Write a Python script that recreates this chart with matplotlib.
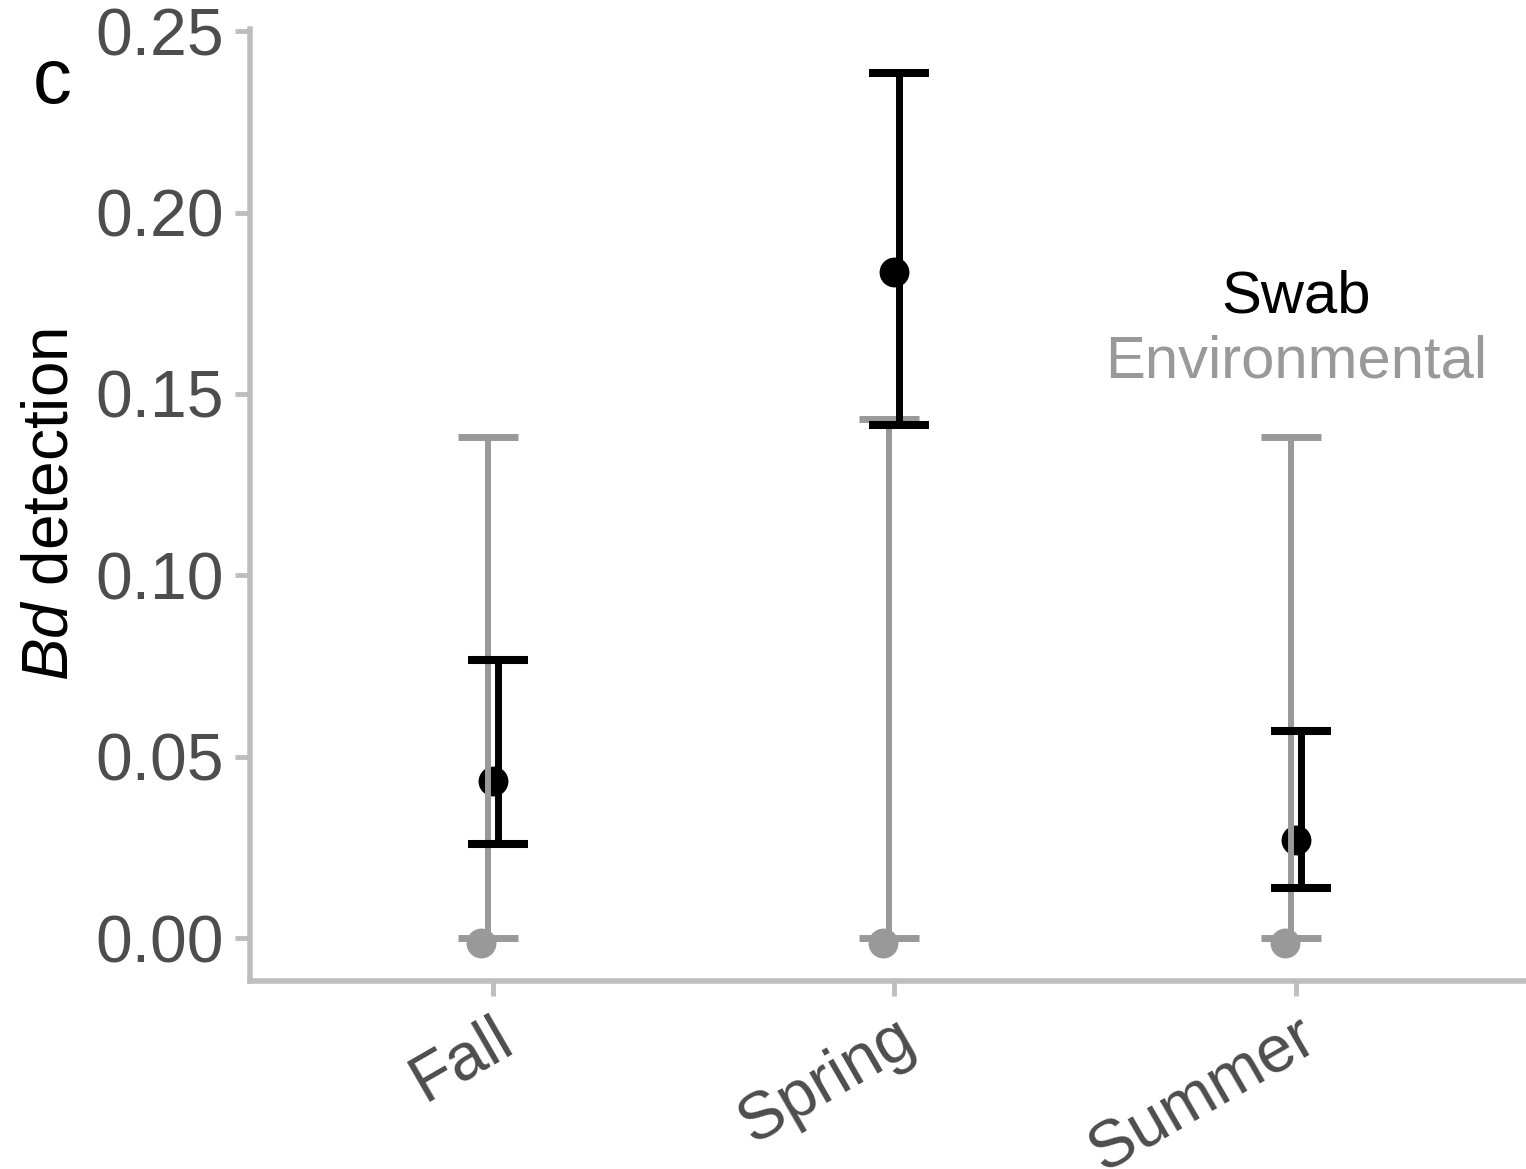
import matplotlib.pyplot as plt
import numpy as np

plt.rcParams['font.family'] = ['Liberation Sans', 'DejaVu Sans']
plt.rcParams['mathtext.fontset'] = 'custom'
plt.rcParams['mathtext.it'] = 'Liberation Sans:italic'
plt.rcParams['mathtext.rm'] = 'Liberation Sans'

seasons = ['Fall', 'Spring', 'Summer']
swab_est = [0.0433, 0.1837, 0.0269]
swab_lo = [0.0259, 0.1413, 0.0138]
swab_hi = [0.0766, 0.2385, 0.0571]
env_est = [-0.0013, -0.0013, -0.0013]
env_lo = [0.0, 0.0, 0.0]
env_hi = [0.1380, 0.1431, 0.1380]
y_ticks = [0.00, 0.05, 0.10, 0.15, 0.20, 0.25]

SWAB_COL = 'black'
ENV_COL = '#999999'
AXIS_COL = '#BEBEBE'
TICK_TXT = '#4D4D4D'

fig = plt.figure(figsize=(15.26, 11.69), dpi=100)
ax = fig.add_axes([250/1526, 188/1169, 1 - 250/1526, (981 - 29)/1169])

x = np.arange(1, len(seasons) + 1)

# points first, error bars drawn over them
ax.plot(x - 0.028, env_est, 'o', color=ENV_COL, ms=21.5, mew=0, zorder=2)
ax.plot(x, swab_est, 'o', color=SWAB_COL, ms=21.5, mew=0, zorder=2)

env_lo = np.array(env_lo)
swab_lo = np.array(swab_lo)
ax.errorbar(x - 0.0125, env_lo, yerr=[np.zeros(3), np.array(env_hi) - env_lo],
            fmt='none', ecolor=ENV_COL, elinewidth=4.3, capsize=21.6, capthick=5, zorder=3)
ax.errorbar(x + 0.0125, swab_lo, yerr=[np.zeros(3), np.array(swab_hi) - swab_lo],
            fmt='none', ecolor=SWAB_COL, elinewidth=5, capsize=21.6, capthick=5.8, zorder=4)

ax.text(3, 0.1725, 'Swab', ha='center', va='baseline', fontsize=43, color=SWAB_COL)
ax.text(3, 0.1544, 'Environmental', ha='center', va='baseline', fontsize=43, color=ENV_COL)

ax.set_xlim(0.396, 3.5726)
ax.set_ylim(-0.01185, 0.2506)
ax.set_xticks(x, seasons)
ax.set_yticks(y_ticks, ['%.2f' % v for v in y_ticks])
ax.tick_params(axis='both', length=10.5, width=3.5, color=AXIS_COL,
               labelsize=47.5, labelcolor=TICK_TXT, pad=8)
plt.setp(ax.get_xticklabels(), rotation=30, ha='right', rotation_mode='anchor')

for s in ['top', 'right']:
    ax.spines[s].set_visible(False)
for s in ['left', 'bottom']:
    ax.spines[s].set_color(AXIS_COL)
    ax.spines[s].set_linewidth(4)

ax.set_ylabel(r'$Bd$ detection', fontsize=46, color='black')
ax.yaxis.set_label_coords(-0.133, 0.5)

fig.text(33/1526, 1 - 103/1169, 'c', fontsize=56, va='baseline')

fig.savefig('out.png', dpi=100)
